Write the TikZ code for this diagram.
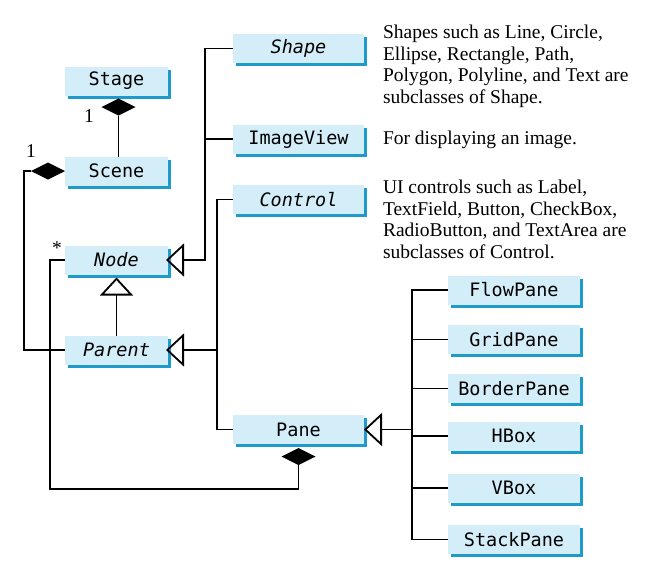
\documentclass[tikz,border=0pt]{standalone}
\usepackage{fontspec}
\setmainfont{Liberation Serif}
\setmonofont{DejaVu Sans Mono}
\usetikzlibrary{positioning,shapes.geometric,shadows,arrows.meta}
\definecolor{boxfill}{HTML}{D4EEF9}
\definecolor{boxedge}{HTML}{1E9ACB}
\begin{document}
\begin{tikzpicture}[x=1pt, y=-1pt, line width=1.8pt, every node/.style={inner sep=0pt, outer sep=0pt}]
\tikzset{cls/.style={fill=boxfill, minimum height=29pt, font=\ttfamily\fontsize{18.5}{18.5}\selectfont,
    general shadow={fill=boxedge, shadow xshift=3pt, shadow yshift=-3pt}},
  lcls/.style={cls, minimum width=103pt}, mcls/.style={cls, minimum width=131pt}, rcls/.style={cls, minimum width=132pt},
  comp/.style={diamond, fill=black, minimum width=34pt, minimum height=17pt},
  gen/.style={-{Triangle[open, length=18pt, width=33pt]}},
  note/.style={align=left, anchor=north west, font=\fontsize{19.5}{21.7}\selectfont},
  mult/.style={anchor=base, font=\fontsize{19.5}{21.7}\selectfont}}
\useasboundingbox (0,0) rectangle (659,568);
% left column
\node[lcls] (stage) at (116.5,81) {Stage};
\node[lcls] (scene) at (116.5,171) {Scene};
\node[lcls] (nodeC) at (116.5,260) {\itshape Node};
\node[lcls] (parent) at (116.5,350) {\itshape Parent};
% middle column
\node[mcls] (shape) at (298.5,48.5) {\itshape Shape};
\node[mcls] (imageview) at (298.5,139) {ImageView};
\node[mcls] (control) at (298.5,199.5) {\itshape Control};
\node[mcls] (pane) at (298.5,429.5) {Pane};
% right column
\node[rcls] (flowpane) at (514,290) {FlowPane};
\node[rcls] (gridpane) at (514,339.5) {GridPane};
\node[rcls] (borderpane) at (514,388.5) {BorderPane};
\node[rcls] (hbox) at (514,436) {HBox};
\node[rcls] (vbox) at (514,488) {VBox};
\node[rcls] (stackpane) at (514,539.5) {StackPane};
% notes
\node[note] (nShape) at (383,25) {Shapes such as Line, Circle,\\Ellipse, Rectangle, Path,\\Polygon, Polyline, and Text are\\subclasses of Shape.};
\node[note] (nImage) at (383,131) {For displaying an image.};
\node[note] (nControl) at (383,180) {UI controls such as Label,\\TextField, Button, CheckBox,\\RadioButton, and TextArea are\\subclasses of Control.};
% composition
\node[comp, below=3pt of stage.south, xshift=2pt] (dStage) {};
\draw (dStage.south) -- (dStage.south |- scene.north);
\node[comp, left=0pt of scene] (dScene) {};
\draw (dScene.west) -- ++(-7,0) |- (parent.west);
\node[comp, below=4pt of pane] (dPane) {};
\coordinate (jNode) at (50,489);
\draw (nodeC.west) -| (jNode) -| (dPane.south);
\node[mult] (mStage) at (89,122) {1};
\node[mult] (mScene) at (31,157) {1};
\node[mult] (mNode) at (57,254) {*};
% inheritance
\draw[gen, shorten >=3pt] (parent.north) -- (nodeC.south);
\coordinate[left=28pt of shape.west] (jShape);
\draw[gen, shorten >=-2pt] (shape.west) -- (jShape) |- (nodeC.east);
\draw (imageview.west) -- (imageview.west -| jShape);
\coordinate[left=16pt of control.west] (jControl);
\draw (control.west) -- (jControl) |- (pane.west);
\draw[gen, shorten >=-2pt] (jControl |- parent.east) -- (parent.east);
\coordinate[left=36pt of flowpane.west] (jPane);
\draw (flowpane.west) -- (jPane) |- (stackpane.west);
\foreach \n in {gridpane,borderpane,hbox,vbox} \draw (\n.west) -- (\n.west -| jPane);
\draw[gen] (jPane |- pane.east) -- (pane.east);
\end{tikzpicture}
\end{document}
